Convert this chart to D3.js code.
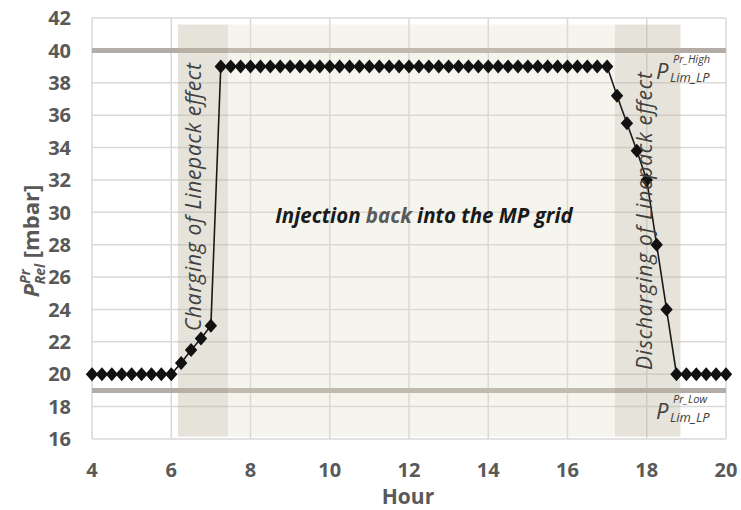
<!DOCTYPE html>
<html>
<head>
<meta charset="utf-8">
<script src="https://cdn.jsdelivr.net/npm/d3@7"></script>
<style>
  body { margin: 0; background: #fff; }
  svg { display: block; }
</style>
</head>
<body>
<div id="chart"></div>
<script>
/************************
 *  Data
 ************************/
const hours = [
  4, 4.25, 4.5, 4.75, 5, 5.25, 5.5, 5.75, 6,
  6.25, 6.5, 6.75, 7,
  7.25, 7.5, 7.75, 8, 8.25, 8.5, 8.75, 9, 9.25, 9.5, 9.75, 10,
  10.25, 10.5, 10.75, 11, 11.25, 11.5, 11.75, 12, 12.25, 12.5, 12.75, 13,
  13.25, 13.5, 13.75, 14, 14.25, 14.5, 14.75, 15, 15.25, 15.5, 15.75, 16,
  16.25, 16.5, 16.75, 17,
  17.25, 17.5, 17.75, 18, 18.25, 18.5, 18.75,
  19, 19.25, 19.5, 19.75, 20
];
const pressure = [
  20, 20, 20, 20, 20, 20, 20, 20, 20,
  20.7, 21.5, 22.2, 23,
  39, 39, 39, 39, 39, 39, 39, 39, 39, 39, 39, 39,
  39, 39, 39, 39, 39, 39, 39, 39, 39, 39, 39, 39,
  39, 39, 39, 39, 39, 39, 39, 39, 39, 39, 39, 39,
  39, 39, 39, 39,
  37.2, 35.5, 33.8, 32, 28, 24, 20,
  20, 20, 20, 20, 20
];
const xTicks = [4, 6, 8, 10, 12, 14, 16, 18, 20];
const yTicks = [16, 18, 20, 22, 24, 26, 28, 30, 32, 34, 36, 38, 40, 42];

// pressure limits of the LP grid
const limitValues = [40, 19];
const limitSup = ["Pr_High", "Pr_Low"];

// shaded phases (hour ranges)
const phaseNames = ["Charging of Linepack effect", "Injection back into the MP grid", "Discharging of Linepack effect"];
const phaseStart = [6.17, 7.43, 17.2];
const phaseEnd = [7.43, 17.2, 18.85];

/************************
 *  Setup
 ************************/
const width = 741, height = 510;
const plot = { left: 92, right: 726, top: 18, bottom: 439 };

const svg = d3.select("#chart").append("svg")
  .attr("width", width)
  .attr("height", height)
  .style("font-family", "'Open Sans', Lato, sans-serif");

const x = d3.scaleLinear().domain([4, 20]).range([plot.left, plot.right]);
const y = d3.scaleLinear().domain([16, 42]).range([plot.bottom, plot.top]);

const gridColor = "#d9d9d9";
const labelColor = "#595959";

/************************
 *  Grid
 ************************/
svg.append("g")
  .selectAll("line")
  .data(yTicks)
  .enter().append("line")
  .attr("x1", plot.left).attr("x2", plot.right)
  .attr("y1", d => y(d)).attr("y2", d => y(d))
  .style("stroke", gridColor)
  .style("stroke-width", 1.5);

svg.append("g")
  .selectAll("line")
  .data(xTicks)
  .enter().append("line")
  .attr("x1", d => x(d)).attr("x2", d => x(d))
  .attr("y1", plot.top).attr("y2", plot.bottom)
  .style("stroke", gridColor)
  .style("stroke-width", 1.5);

// limit lines
svg.append("g")
  .selectAll("line")
  .data(limitValues)
  .enter().append("line")
  .attr("x1", plot.left).attr("x2", plot.right)
  .attr("y1", d => y(d)).attr("y2", d => y(d))
  .style("stroke", "#b3aca7")
  .style("stroke-width", 5);

/************************
 *  Phase bands
 ************************/
const bandFill = ["#bfb8a2", "#ddd9c3", "#bfb8a2"];
const bandOpacity = [0.4, 0.3, 0.4];

svg.append("g")
  .selectAll("rect")
  .data(phaseNames)
  .enter().append("rect")
  .attr("x", (_, i) => x(phaseStart[i]))
  .attr("width", (_, i) => x(phaseEnd[i]) - x(phaseStart[i]))
  .attr("y", y(41.6))
  .attr("height", y(16.15) - y(41.6))
  .style("fill", (_, i) => bandFill[i])
  .style("fill-opacity", (_, i) => bandOpacity[i]);

/************************
 *  Series
 ************************/
const points = hours.map((h, i) => ({ h: h, v: pressure[i] }));

const line = d3.line()
  .x(d => x(d.h))
  .y(d => y(d.v));

svg.append("path")
  .datum(points)
  .attr("d", line)
  .style("fill", "none")
  .style("stroke", "#1a1a1a")
  .style("stroke-width", 1.6);

svg.append("g")
  .selectAll("path")
  .data(points)
  .enter().append("path")
  .attr("transform", d => `translate(${x(d.h)},${y(d.v)})`)
  .attr("d", "M0,-7L6.2,0L0,7L-6.2,0Z")
  .style("fill", "#111");

/************************
 *  Axes labels
 ************************/
svg.append("g")
  .selectAll("text")
  .data(yTicks)
  .enter().append("text")
  .attr("x", 71)
  .attr("y", d => y(d))
  .attr("dy", "0.36em")
  .style("text-anchor", "end")
  .style("font-size", "20px")
  .style("font-weight", "bold")
  .style("fill", labelColor)
  .text(d => d);

svg.append("g")
  .selectAll("text")
  .data(xTicks)
  .enter().append("text")
  .attr("x", d => x(d))
  .attr("y", 477)
  .style("text-anchor", "middle")
  .style("font-size", "20px")
  .style("font-weight", "bold")
  .style("fill", labelColor)
  .text(d => d);

svg.append("text")
  .attr("x", 408)
  .attr("y", 504)
  .style("text-anchor", "middle")
  .style("font-size", "21px")
  .style("font-weight", "bold")
  .style("fill", labelColor)
  .text("Hour");

// y label: P^Pr_Rel [mbar]
const yLab = svg.append("text")
  .attr("transform", "translate(39,241) rotate(-90)")
  .style("text-anchor", "middle")
  .style("font-size", "22px")
  .style("font-weight", "bold")
  .style("fill", labelColor);
yLab.append("tspan").style("font-style", "italic").text("P");
yLab.append("tspan").attr("dy", -9).style("font-size", "14px").style("font-style", "italic").text("Pr");
yLab.append("tspan").attr("dx", -15).attr("dy", 15).style("font-size", "14px").style("font-style", "italic").text("Rel");
yLab.append("tspan").attr("dy", -6).text(" [mbar]");

/************************
 *  Annotations
 ************************/
const phaseTextColor = "#404040";

svg.append("text")
  .attr("transform", `translate(201,197) rotate(-90)`)
  .style("text-anchor", "middle")
  .style("font-size", "21px")
  .style("font-style", "italic")
  .style("fill", phaseTextColor)
  .attr("textLength", 268)
  .attr("lengthAdjust", "spacing")
  .text(phaseNames[0]);

svg.append("text")
  .attr("transform", `translate(652,221) rotate(-90)`)
  .style("text-anchor", "middle")
  .style("font-size", "21px")
  .style("font-style", "italic")
  .style("fill", phaseTextColor)
  .attr("textLength", 298)
  .attr("lengthAdjust", "spacing")
  .text(phaseNames[2]);

const inj = svg.append("text")
  .attr("x", 424)
  .attr("y", 223)
  .style("text-anchor", "middle")
  .style("font-size", "20.5px")
  .style("font-weight", "bold")
  .style("font-style", "italic")
  .style("fill", "#1a1a1a");
inj.append("tspan").text("Injection ");
inj.append("tspan").style("fill", labelColor).text("back");
inj.append("tspan").text(" into the MP grid");

// limit labels
limitValues.forEach((v, i) => {
  const base = y(v);
  const g = svg.append("g").style("fill", phaseTextColor).style("font-style", "italic");
  g.append("text")
    .attr("x", 656).attr("y", base + 29)
    .style("font-size", "22px")
    .text("P");
  g.append("text")
    .attr("x", 673).attr("y", base + 13)
    .style("font-size", "11px")
    .text(limitSup[i]);
  g.append("text")
    .attr("x", 670).attr("y", base + 32)
    .style("font-size", "13px")
    .text("Lim_LP");
});
</script>
</body>
</html>
